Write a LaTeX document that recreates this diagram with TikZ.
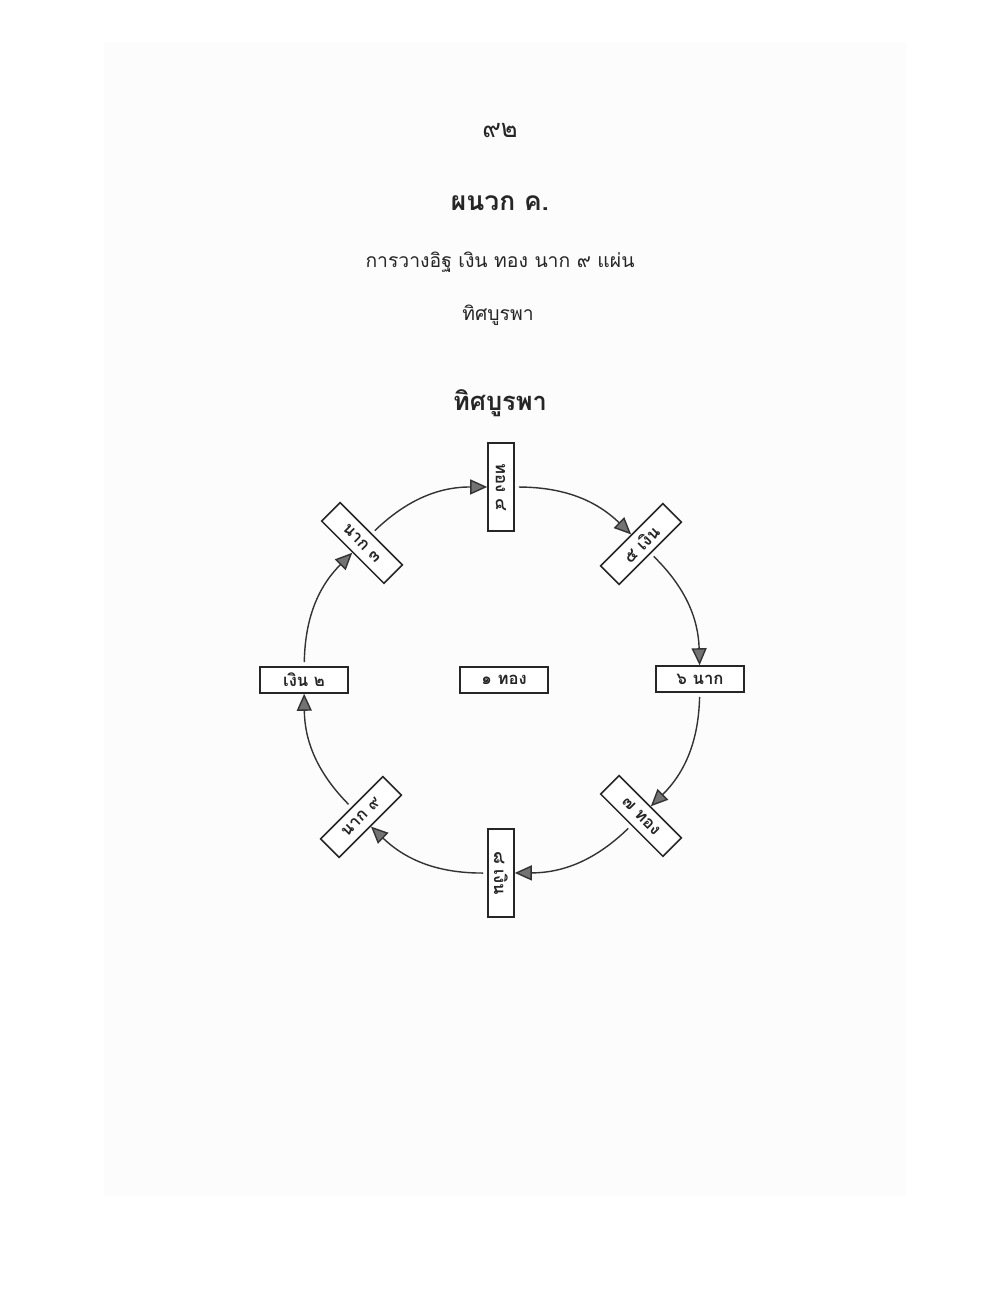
\documentclass[tikz,border=0pt]{standalone}
\usepackage{fontspec}
\newfontfamily\thai[Script=Thai]{Loma}
\usetikzlibrary{arrows.meta}
\begin{document}
\begin{tikzpicture}[x=0.2mm,y=0.2mm,
  plate/.style={draw=black!85, line width=0.9pt, minimum width=17.6mm, minimum height=5.2mm,
    inner sep=0pt, fill=white, text=black!85, font=\thai\bfseries\fontsize{9.5}{11}\selectfont},
  flow/.style={draw=black!80, line width=0.8pt, shorten <=0.8mm,
    -{Triangle[length=3.4mm,width=3mm,fill=black!55]}},
  heading/.style={text=black!85, inner sep=0pt}
]
\useasboundingbox (0,0) rectangle (1000,1295);
\fill[white] (0,0) rectangle (1000,1295);
\fill[black!1] (104,99) rectangle (906,1253);

% headings
\node[heading, font=\thai\fontsize{14.5}{17}\selectfont] (pg) at (500,1164) {๙๒};
\node[heading, font=\thai\bfseries\fontsize{15}{18}\selectfont] (t1) at (500,1092) {ผนวก ค.};
\node[heading, font=\thai\fontsize{11}{13}\selectfont] (t2) at (500,1033) {การวางอิฐ เงิน ทอง นาก ๙ แผ่น};
\node[heading, font=\thai\fontsize{11}{13}\selectfont] (t3) at (498,980) {ทิศบูรพา};
\node[heading, font=\thai\bfseries\fontsize{14.5}{17}\selectfont] (t4) at (500,892) {ทิศบูรพา};

% plates
\node[plate] (b1) at (504,615) {๑ ทอง};
\node[plate] (b2) at (304,615) {เงิน ๒};
\node[plate,rotate=-45] (b3) at (362,752) {นาก ๓};
\node[plate,rotate=-90] (b4) at (501,808) {ทอง ๔};
\node[plate,rotate=45] (b5) at (641,751) {๕ เงิน};
\node[plate] (b6) at (700,616) {๖ นาก};
\node[plate,rotate=-45] (b7) at (641,479) {๗ ทอง};
\node[plate,rotate=-90] (b8) at (501,422) {๘ เงิน};
\node[plate,rotate=45] (b9) at (361,478) {นาก ๙};

% connectors (clockwise)
\draw[flow] (b2) to[bend left=22] (b3);
\draw[flow] (b3) to[bend left=22] (b4);
\draw[flow] (b4) to[bend left=22] (b5);
\draw[flow] (b5) to[bend left=22] (b6);
\draw[flow] (b6) to[bend left=22] (b7);
\draw[flow] (b7) to[bend left=22] (b8);
\draw[flow] (b8) to[bend left=22] (b9);
\draw[flow] (b9) to[bend left=22] (b2);
\end{tikzpicture}
\end{document}
